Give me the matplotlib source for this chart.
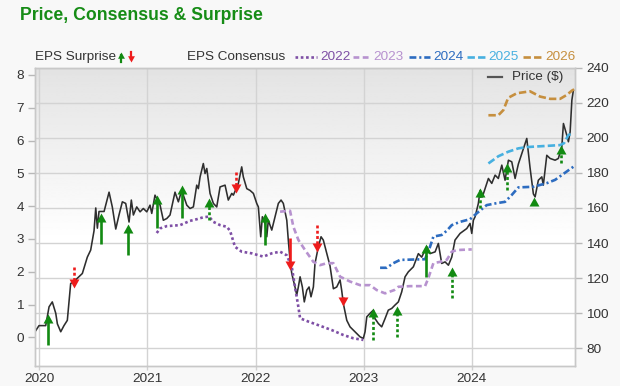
import matplotlib
matplotlib.use('Agg')
import matplotlib.pyplot as plt
import numpy as np
from matplotlib.lines import Line2D

plt.rcParams['font.family'] = ['Liberation Sans', 'DejaVu Sans']

# share price ($), x in decimal years
price_t = [2019.960, 2019.997, 2020.059, 2020.090, 2020.120, 2020.152, 2020.167, 2020.198, 2020.228, 2020.259,
           2020.290, 2020.321, 2020.352, 2020.398, 2020.444, 2020.475, 2020.506, 2020.522, 2020.537, 2020.552,
           2020.599, 2020.645, 2020.675, 2020.707, 2020.737, 2020.768, 2020.799, 2020.830, 2020.851, 2020.870,
           2020.901, 2020.932, 2020.962, 2020.994, 2021.024, 2021.040, 2021.070, 2021.117, 2021.147, 2021.179,
           2021.209, 2021.255, 2021.286, 2021.317, 2021.364, 2021.394, 2021.425, 2021.456, 2021.471, 2021.487,
           2021.517, 2021.533, 2021.549, 2021.579, 2021.610, 2021.641, 2021.672, 2021.718, 2021.748, 2021.780,
           2021.795, 2021.841, 2021.872, 2021.887, 2021.919, 2021.949, 2021.980, 2022.011, 2022.026, 2022.048,
           2022.063, 2022.088, 2022.104, 2022.118, 2022.150, 2022.180, 2022.211, 2022.236, 2022.257, 2022.289,
           2022.303, 2022.319, 2022.335, 2022.365, 2022.381, 2022.396, 2022.412, 2022.433, 2022.451, 2022.474,
           2022.495, 2022.513, 2022.535, 2022.550, 2022.581, 2022.606, 2022.627, 2022.659, 2022.689, 2022.720,
           2022.751, 2022.782, 2022.797, 2022.812, 2022.844, 2022.874, 2022.905, 2022.936, 2022.967, 2022.997,
           2023.013, 2023.029, 2023.059, 2023.090, 2023.105, 2023.136, 2023.167, 2023.198, 2023.228, 2023.260,
           2023.290, 2023.321, 2023.352, 2023.383, 2023.413, 2023.460, 2023.506, 2023.537, 2023.568, 2023.584,
           2023.614, 2023.661, 2023.691, 2023.722, 2023.753, 2023.784, 2023.815, 2023.845, 2023.892, 2023.954,
           2023.984, 2024.000, 2024.015, 2024.031, 2024.061, 2024.077, 2024.098, 2024.123, 2024.154, 2024.185,
           2024.216, 2024.246, 2024.278, 2024.308, 2024.339, 2024.370, 2024.401, 2024.431, 2024.463, 2024.509,
           2024.539, 2024.570, 2024.586, 2024.616, 2024.648, 2024.662, 2024.694, 2024.725, 2024.771, 2024.801,
           2024.833, 2024.848, 2024.879, 2024.894, 2024.910, 2024.926, 2024.940]
price = [89.5, 93, 93, 103.7, 106.5, 100, 94, 89.5, 93, 96,
         117, 118, 120, 122.7, 132, 136, 147, 160, 148.5, 158,
         158, 169, 160.6, 148, 156, 163.5, 162.6, 152, 164.5, 156,
         160.6, 157.8, 159.7, 157.8, 161.6, 156.9, 167.3, 161.6, 153, 154,
         156, 169, 163.5, 170, 161.6, 159.7, 160.6, 173, 171, 177.7,
         185.3, 179.6, 182.5, 168.3, 162.6, 160.6, 172, 173, 164.5, 168.3,
         167.3, 174, 183.4, 177.7, 171, 170, 168.3, 162.6, 160.6, 143.6,
         155, 151, 143.6, 153, 147.4, 155, 162.6, 164.5, 162.6, 153,
         141.7, 130.3, 122.7, 115, 110.4, 115, 120.8, 115, 106.5, 113.2,
         115, 109.4, 115, 128.4, 137.9, 143.6, 141.7, 134, 127, 114,
         115, 119, 113, 105.6, 96, 92.3, 90.4, 88.5, 86.6, 85.7,
         89.5, 98, 100, 101.8, 97, 94.2, 92.3, 97, 101.8, 102.8,
         104.7, 106.5, 112.2, 120.8, 123.6, 126.5, 134, 132, 136, 137.9,
         134, 135, 139.8, 128.4, 129.3, 127.4, 132, 141.7, 145.5, 148.3,
         151.2, 145.5, 153, 155, 162.6, 170, 166.3, 171, 176.8, 174,
         178.7, 176.8, 184.4, 175.8, 187.2, 186.3, 176.8, 185, 191, 199.6,
         183, 168, 166.3, 175.8, 177.7, 173, 190, 188.2, 187.2, 188.2,
         194.8, 208.1, 201.5, 197.7, 203.3, 221.4, 227]

# EPS consensus per fiscal year
cons_2022_t = [2021.086, 2021.117, 2021.179, 2021.302, 2021.394, 2021.456, 2021.517, 2021.570, 2021.610, 2021.672,
               2021.734, 2021.764, 2021.810, 2021.872, 2021.965, 2022.072, 2022.150, 2022.227, 2022.289, 2022.335,
               2022.365, 2022.396, 2022.412, 2022.488, 2022.581, 2022.705, 2022.812, 2022.905, 2022.997]
cons_2022 = [3.18, 3.32, 3.39, 3.42, 3.55, 3.60, 3.66, 3.68, 3.52, 3.42,
             3.37, 3.25, 2.76, 2.61, 2.56, 2.46, 2.56, 2.61, 2.50, 2.15,
             1.54, 0.93, 0.58, 0.48, 0.37, 0.22, 0.07, -0.03, -0.08]

cons_2023_t = [2022.227, 2022.319, 2022.350, 2022.396, 2022.458, 2022.535, 2022.597, 2022.659, 2022.720, 2022.782,
               2022.874, 2022.967, 2023.059, 2023.121, 2023.198, 2023.283, 2023.321, 2023.429, 2023.568, 2023.598,
               2023.645, 2023.707, 2023.769, 2023.815, 2023.861, 2024.000]
cons_2023 = [3.83, 3.86, 3.37, 2.97, 2.66, 2.30, 2.20, 2.26, 2.26, 1.85,
             1.70, 1.59, 1.59, 1.44, 1.34, 1.44, 1.54, 1.56, 1.56, 1.80,
             2.26, 2.30, 2.36, 2.61, 2.66, 2.68]

cons_2024_t = [2023.152, 2023.214, 2023.275, 2023.337, 2023.568, 2023.614, 2023.645, 2023.722, 2023.769, 2023.815,
               2023.892, 2023.984, 2024.046, 2024.138, 2024.231, 2024.308, 2024.370, 2024.431, 2024.570, 2024.694,
               2024.771, 2024.864, 2024.940]
cons_2024 = [2.12, 2.12, 2.26, 2.36, 2.38, 2.76, 3.07, 3.12, 3.25, 3.42,
             3.52, 3.60, 3.78, 4.03, 4.09, 4.13, 4.34, 4.57, 4.59, 4.70,
             4.80, 5.02, 5.20]

cons_2025_t = [2024.154, 2024.246, 2024.339, 2024.431, 2024.509, 2024.662, 2024.817, 2024.854, 2024.894, 2024.940]
cons_2025 = [5.30, 5.52, 5.66, 5.76, 5.80, 5.83, 5.86, 5.92, 6.17, 6.22]

cons_2026_t = [2024.154, 2024.246, 2024.293, 2024.337, 2024.416, 2024.539, 2024.632, 2024.725, 2024.817, 2024.879,
               2024.926, 2024.947]
cons_2026 = [6.77, 6.77, 6.93, 7.30, 7.44, 7.50, 7.34, 7.27, 7.27, 7.39, 7.52, 7.56]

# EPS surprises: date, consensus, reported, solid (True) or dotted
surprise_t = [2020.076, 2020.321, 2020.575, 2020.823, 2021.086, 2021.317, 2021.570, 2021.818, 2022.083, 2022.319,
              2022.564, 2022.812, 2023.082, 2023.312, 2023.577, 2023.813, 2024.077, 2024.324, 2024.576, 2024.826]
surprise_from = [-0.23, 2.15, 2.84, 2.51, 3.32, 3.63, 3.58, 5.05, 2.81, 3.02,
                 3.42, 1.24, -0.08, 0.02, 1.85, 1.19, 3.93, 4.49, 4.03, 5.30]
surprise_to = [0.71, 1.50, 3.80, 3.45, 4.34, 4.64, 4.24, 4.41, 3.80, 2.05,
               2.61, 0.95, 0.88, 0.95, 2.84, 2.15, 4.54, 5.30, 4.29, 5.86]
surprise_solid = [True, False, True, True, True, True, False, False, True, True,
                  False, True, False, False, True, False, False, False, False, False]

year_ticks = [2020, 2021, 2022, 2023, 2024]
eps_ticks = [0, 1, 2, 3, 4, 5, 6, 7, 8]
price_ticks = [80, 100, 120, 140, 160, 180, 200, 220, 240]

GREEN = '#128a12'
RED = '#ee1c1c'
TXT = '#333333'
series = [
    ('2022', cons_2022_t, cons_2022, '#7e4fa5', (1, 1)),
    ('2023', cons_2023_t, cons_2023, '#b792cf', (2.2, 1.3)),
    ('2024', cons_2024_t, cons_2024, '#2d6cc0', (2.6, 1.1, 0.8, 1.1)),
    ('2025', cons_2025_t, cons_2025, '#47b0e0', (2.8, 1.2)),
    ('2026', cons_2026_t, cons_2026, '#c68f3e', (2.8, 1.2)),
]

# arrow heads with the apex at the data point
UP_HEAD = np.array([[0, 0], [-0.55, -1], [0.55, -1], [0, 0]])
DOWN_HEAD = np.array([[0, 0], [-0.55, 1], [0.55, 1], [0, 0]])

W, H = 620, 386
fig = plt.figure(figsize=(W / 100, H / 100), dpi=100, facecolor='#f8f8f8')


def fx(px):
    return px / W


def fy(py):
    return 1 - py / H


# price axis sits underneath, eps axis on top
ax = fig.add_axes([fx(35), fy(366), fx(575) - fx(35), fy(67.5) - fy(366)])
ax2 = ax.twinx()

# grey-to-white background
f = np.linspace(0, 1, 256).reshape(-1, 1)
shade = np.where(f < 0.42, 1.0, 1.0 - 0.11 * (f - 0.42) / 0.58)
ax.imshow(shade, cmap='gray', vmin=0, vmax=1, origin='lower', aspect='auto',
          extent=[0, 1, 0, 1], transform=ax.transAxes, zorder=0)

ax.plot(price_t, price, color='#2e2e2e', lw=1.15, zorder=3)

for name, t, v, col, dash in series:
    ax2.plot(t, v, color=col, lw=1.9, dashes=dash, zorder=2)

for t, a, b, solid in zip(surprise_t, surprise_from, surprise_to, surprise_solid):
    up = b > a
    col = GREEN if up else RED
    stop = b - 0.14 if up else b + 0.14
    ax2.plot([t, t], [a, stop], color=col, lw=1.9, solid_capstyle='butt',
             dashes=(1.1, 0.9) if not solid else (None, None), zorder=4)
    ax2.plot([t], [b], marker=UP_HEAD if up else DOWN_HEAD, ms=13,
             color=col, mew=0, ls='none', zorder=4)

ax.set_xlim(2019.96, 2024.955)
ax.set_ylim(70, 240)
ax2.set_ylim(-0.875, 8.226)

ax.set_xticks(year_ticks)
ax.set_xticklabels([str(y) for y in year_ticks])
ax.set_yticks(price_ticks)
ax2.set_yticks(eps_ticks)

ax.grid(True, color='#d3d3d3', lw=1)
ax.set_axisbelow(True)

ax.yaxis.tick_right()
ax2.yaxis.tick_left()
ax.tick_params(axis='y', length=5, width=1, color='#b8b8b8', labelsize=9.7, labelcolor=TXT, pad=3)
ax2.tick_params(axis='y', length=5, width=1, color='#b8b8b8', labelsize=9.7, labelcolor=TXT, pad=3)
ax.tick_params(axis='x', length=3, width=1, color='#d0d0d0', labelsize=9.7, labelcolor=TXT, pad=2)

for a in (ax, ax2):
    for s in a.spines.values():
        s.set_color('#c8c8c8')
        s.set_linewidth(1)

# title
fig.text(fx(20), fy(16), 'Price, Consensus & Surprise', fontsize=12.7, fontweight='bold',
         color='#168c16', va='center', ha='left')

# legend row
ly = fy(57)
fig.text(fx(35), ly, 'EPS Surprise', fontsize=9.7, color=TXT, va='center', ha='left')
fig.add_artist(Line2D([fx(121), fx(121)], [fy(62), fy(55)], color=GREEN, lw=1.6, transform=fig.transFigure))
fig.add_artist(Line2D([fx(121)], [fy(52)], marker=UP_HEAD, ms=9, color=GREEN, mew=0, transform=fig.transFigure))
fig.add_artist(Line2D([fx(131), fx(131)], [fy(52), fy(59)], color=RED, lw=1.6, transform=fig.transFigure))
fig.add_artist(Line2D([fx(131)], [fy(62)], marker=DOWN_HEAD, ms=9, color=RED, mew=0, transform=fig.transFigure))

fig.text(fx(187), ly, 'EPS Consensus', fontsize=9.7, color=TXT, va='center', ha='left')
legend_x = [(295, 317, 320), (353, 370, 373), (409, 430, 433), (467, 485, 488), (523, 542, 545)]
for (name, t, v, col, dash), (x0, x1, xt) in zip(series, legend_x):
    fig.add_artist(Line2D([fx(x0), fx(x1)], [ly, ly], color=col, lw=1.9, dashes=dash,
                          transform=fig.transFigure))
    fig.text(fx(xt), ly, name, fontsize=9.7, color=col, va='center', ha='left')

# price legend inside the plot
fig.add_artist(Line2D([fx(488), fx(502)], [fy(77), fy(77)], color='#555555', lw=1.6,
                      transform=fig.transFigure))
fig.text(fx(512), fy(77), 'Price ($)', fontsize=9.7, color=TXT, va='center', ha='left')

fig.savefig('out.png', dpi=100, facecolor=fig.get_facecolor())
plt.close(fig)
